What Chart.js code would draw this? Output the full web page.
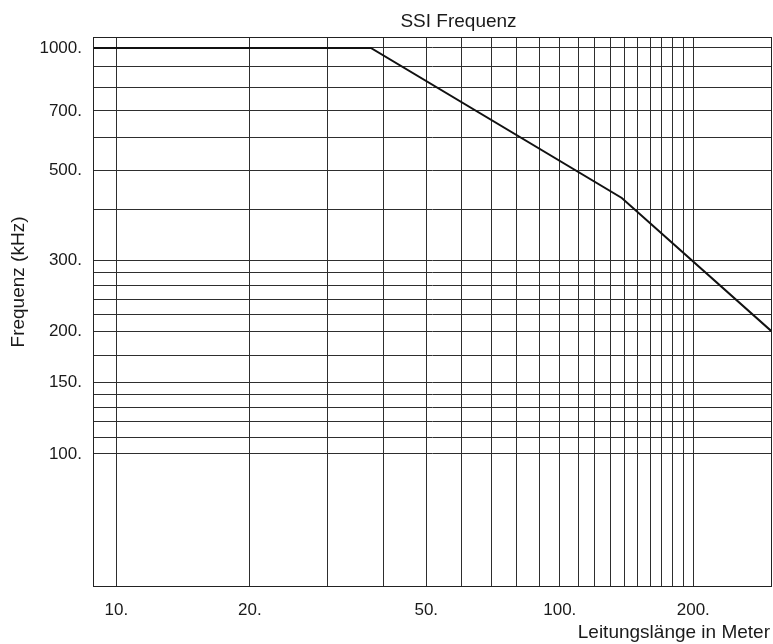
<!DOCTYPE html>
<html><head><meta charset="utf-8">
<script src="https://cdn.jsdelivr.net/npm/chart.js@4.4.0/dist/chart.umd.min.js"></script>
<style>html,body{margin:0;padding:0;background:#fff}</style>
</head><body>
<canvas id="c" width="773" height="644"></canvas>
<script>
// Data (log-log)
const lengths = [8.86, 37.5, 138, 301];
const freqs = [1000, 1000, 427, 200];

const xRange = [8.86, 301];
const yRange = [47, 1064];

const xGridValues = [10,20,30,40,50,60,70,80,90,100,110,120,130,140,150,160,170,180,190,200];
const xLabelValues = [10,20,50,100,200];
const yGridValues = [100,110,120,130,140,150,175,200,220,240,260,280,300,400,500,600,700,800,900,1000];
const yLabelValues = [100,150,200,300,500,700,1000];

const titleText = 'SSI Frequenz';
const xTitleText = 'Leitungslänge in Meter';
const yTitleText = 'Frequenz (kHz)';

const FONT = "'Liberation Sans', Arial, Helvetica, sans-serif";
const TEXT = '#1a1a1a';

const framePlugin = {
  id: 'frameAndTitles',
  afterDraw(chart) {
    const {ctx, chartArea: a} = chart;
    ctx.save();
    ctx.strokeStyle = '#222';
    ctx.lineWidth = 1;
    ctx.strokeRect(a.left + 0.5, a.top + 0.5, a.right - a.left - 1, a.bottom - a.top - 1);
    ctx.fillStyle = TEXT;
    ctx.font = '19px ' + FONT;
    ctx.textAlign = 'center';
    ctx.textBaseline = 'alphabetic';
    ctx.fillText(titleText, 458.5, 27);
    ctx.textAlign = 'right';
    ctx.fillText(xTitleText, 770, 638);
    ctx.translate(19, 282);
    ctx.rotate(-Math.PI / 2);
    ctx.textAlign = 'center';
    ctx.textBaseline = 'middle';
    ctx.fillText(yTitleText, 0, 0);
    ctx.restore();
  }
};

new Chart(document.getElementById('c'), {
  type: 'line',
  data: {
    datasets: [{
      data: lengths.map((x, i) => ({x, y: freqs[i]})),
      borderColor: '#111',
      borderWidth: 2,
      pointRadius: 0,
      tension: 0,
      fill: false
    }]
  },
  options: {
    responsive: false,
    animation: false,
    layout: {padding: {top: 37, right: 1, left: 0, bottom: 0}},
    plugins: {legend: {display: false}, tooltip: {enabled: false}, title: {display: false}},
    scales: {
      x: {
        type: 'logarithmic',
        min: xRange[0], max: xRange[1],
        afterBuildTicks: s => { s.ticks = xGridValues.map(v => ({value: v})); },
        afterFit: s => { s.height = 57; },
        ticks: {
          autoSkip: false, maxRotation: 0, minRotation: 0, padding: 13,
          color: TEXT, font: {size: 17, family: FONT},
          callback: v => xLabelValues.includes(v) ? v + '.' : ''
        },
        grid: {color: '#2e2e2e', lineWidth: 1, drawTicks: false},
        border: {display: false}
      },
      y: {
        type: 'logarithmic',
        min: yRange[0], max: yRange[1],
        afterBuildTicks: s => { s.ticks = yGridValues.map(v => ({value: v})); },
        afterFit: s => { s.width = 93; },
        ticks: {
          autoSkip: false, padding: 11,
          color: TEXT, font: {size: 17, family: FONT},
          callback: v => yLabelValues.includes(v) ? v + '.' : ''
        },
        grid: {color: '#2e2e2e', lineWidth: 1, drawTicks: false},
        border: {display: false}
      }
    }
  },
  plugins: [framePlugin]
});
</script>
</body></html>
